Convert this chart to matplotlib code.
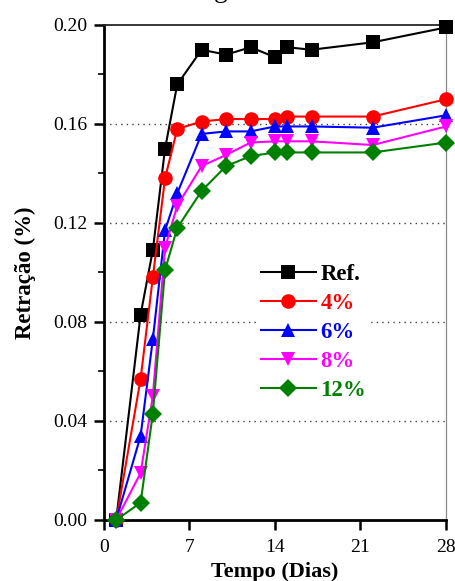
import matplotlib
matplotlib.use("Agg")
import matplotlib.pyplot as plt
from matplotlib.ticker import MultipleLocator

days_ref = [1, 3, 4, 5, 6, 8, 10, 12, 14, 15, 17, 22, 28]
ref = [0.0, 0.083, 0.109, 0.150, 0.176, 0.190, 0.188, 0.191, 0.187, 0.191, 0.190, 0.193, 0.199]

days = [1, 3, 4, 5, 6, 8, 10, 12, 14, 15, 17, 22, 28]
p4 = [0.0, 0.057, 0.098, 0.138, 0.158, 0.161, 0.162, 0.162, 0.162, 0.163, 0.163, 0.163, 0.170]
p6 = [0.0, 0.034, 0.073, 0.117, 0.132, 0.156, 0.157, 0.157, 0.159, 0.159, 0.159, 0.1585, 0.1635]
p8 = [0.0, 0.019, 0.050, 0.110, 0.127, 0.143, 0.1475, 0.1525, 0.153, 0.153, 0.153, 0.1515, 0.159]
p12 = [0.0, 0.007, 0.043, 0.101, 0.118, 0.133, 0.143, 0.147, 0.1485, 0.1485, 0.1485, 0.1485, 0.1525]

labels = ["Ref.", "4%", "6%", "8%", "12%"]
colors = ["black", "#ff0000", "#0000ff", "#ff00ff", "#008000"]
markers = ["s", "o", "^", "v", "D"]
series = [(days_ref, ref), (days, p4), (days, p6), (days, p8), (days, p12)]

xticks = [0, 7, 14, 21, 28]
yticks = [0.00, 0.04, 0.08, 0.12, 0.16, 0.20]

serif = "Liberation Serif"
plt.rcParams["font.family"] = [serif, "DejaVu Serif"]

fig = plt.figure(figsize=(4.56, 5.81), dpi=100)
ax = fig.add_axes([0.228, 0.105, 0.750, 0.852])

msizes = [9.5, 10.5, 10.5, 10.5, 9.5]
for (x, y), lab, c, m, ms in zip(series, labels, colors, markers, msizes):
    ax.plot(x, y, color=c, marker=m, markersize=ms, linewidth=1.5,
            markeredgewidth=0, label=lab, clip_on=False, zorder=3)

ax.set_xlim(0, 28)
ax.set_ylim(0, 0.20)
ax.set_xticks(xticks)
ax.set_yticks(yticks)
ax.set_yticklabels([f"{v:.2f}" for v in yticks])
ax.yaxis.set_minor_locator(MultipleLocator(0.02))
ax.tick_params(axis="both", which="major", direction="out", length=7, width=1.8,
               labelsize=14, pad=5)
ax.tick_params(axis="y", which="minor", direction="out", length=4, width=1.2)
ax.tick_params(axis="x", which="major", pad=7)

for v in [0.04, 0.08, 0.12, 0.16]:
    ax.axhline(v, color="0.25", linestyle=(0, (1, 3)), linewidth=1.0, zorder=1)

ax.spines["left"].set_linewidth(2.0)
ax.spines["bottom"].set_linewidth(2.0)
ax.spines["top"].set_linewidth(1.3)
ax.spines["top"].set_color("0.15")
ax.spines["right"].set_linewidth(0.9)
ax.spines["right"].set_color("0.55")

ax.set_xlabel("Tempo (Dias)", fontsize=16, fontweight="bold", labelpad=4)
ax.set_ylabel("Retração (%)", fontsize=16.5, fontweight="bold", labelpad=12)

leg = ax.legend(loc="upper left", bbox_to_anchor=(0.445, 0.526), frameon=True,
                fancybox=False, edgecolor="none", facecolor="white", framealpha=1,
                prop={"family": serif, "weight": "bold", "size": 16.5},
                handlelength=2.4, handletextpad=0.2, labelspacing=0.35,
                borderpad=0.2, borderaxespad=0)
for t, c in zip(leg.get_texts(), colors):
    t.set_color(c)
leg.set_zorder(5)

fig.text(0.483, 1.006, "g", fontsize=20, ha="center", va="baseline", family=serif)

fig.savefig("out.png", dpi=100)
